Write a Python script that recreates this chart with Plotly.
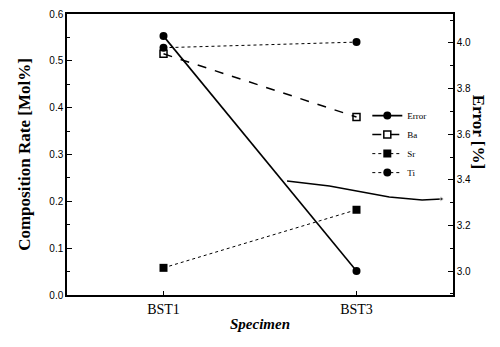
import plotly.graph_objects as go

specimens = ["BST1", "BST3"]
spec_pos = [1, 2]
ba = [0.515, 0.38]
sr = [0.058, 0.182]
ti = [0.528, 0.54]
error = [4.03, 3.0]
# stray line visible in the original scan (error scale)
stray_pos = [1.64, 1.86, 2.17, 2.34, 2.44]
stray_err = [3.395, 3.373, 3.325, 3.311, 3.316]

serif = "Liberation Serif, Times New Roman, serif"
sans = "Liberation Sans, Arial, sans-serif"

fig = go.Figure()
fig.add_trace(go.Scatter(x=spec_pos, y=error, name="Error", yaxis="y2", mode="lines+markers",
                         line=dict(color="black", width=1.6),
                         marker=dict(symbol="circle", size=8, color="black")))
fig.add_trace(go.Scatter(x=spec_pos, y=ba, name="Ba", mode="lines+markers",
                         line=dict(color="black", width=1.5, dash="dash"),
                         marker=dict(symbol="square-open", size=7, color="black", line=dict(width=1.5))))
fig.add_trace(go.Scatter(x=spec_pos, y=sr, name="Sr", mode="lines+markers",
                         line=dict(color="black", width=1, dash="dot"),
                         marker=dict(symbol="square", size=8, color="black")))
fig.add_trace(go.Scatter(x=spec_pos, y=ti, name="Ti", mode="lines+markers",
                         line=dict(color="black", width=1, dash="dot"),
                         marker=dict(symbol="circle", size=8, color="black")))
fig.add_trace(go.Scatter(x=stray_pos, y=stray_err, yaxis="y2", mode="lines+markers", showlegend=False,
                         line=dict(color="black", width=1.5),
                         marker=dict(symbol="triangle-right", size=[0, 0, 0, 0, 5], color="black")))

fig.update_layout(
    width=492, height=339,
    margin=dict(l=59, r=47, t=6, b=52, autoexpand=False),
    paper_bgcolor="white", plot_bgcolor="white",
    showlegend=True,
    legend=dict(x=0.778, y=0.69, xanchor="left", yanchor="top", bgcolor="rgba(0,0,0,0)",
                font=dict(family=serif, size=9, color="black"), itemwidth=30,
                tracegroupgap=0),
    xaxis=dict(range=[0.5, 2.5], tickvals=spec_pos, ticktext=specimens, automargin=False,
               showline=True, linecolor="black", linewidth=1.5, mirror=True,
               ticks="inside", ticklen=4, tickcolor="black", showgrid=False, zeroline=False,
               tickfont=dict(family=serif, size=14, color="black"),
               title=dict(text="<b><i>Specimen</i></b>", font=dict(family=serif, size=15, color="black"),
                          standoff=3)),
    yaxis=dict(range=[0, 0.6], dtick=0.1, tickformat=".1f", automargin=False,
               showline=True, linecolor="black", linewidth=1.5,
               ticks="inside", ticklen=5, tickcolor="black", showgrid=False, zeroline=False,
               minor=dict(ticks="inside", dtick=0.05, ticklen=3, tickcolor="black"),
               tickfont=dict(family=sans, size=10, color="black"),
               title=dict(text="<b>Composition Rate [Mol%]</b>", font=dict(family=serif, size=17, color="black"),
                          standoff=14)),
    yaxis2=dict(range=[2.895, 4.127], overlaying="y", side="right", tickvals=[3.0, 3.2, 3.4, 3.6, 3.8, 4.0],
                tickformat=".1f", automargin=False,
                showline=True, linecolor="black", linewidth=1.5,
                ticks="inside", ticklen=5, tickcolor="black", showgrid=False, zeroline=False,
                minor=dict(ticks="inside", tickvals=[2.9, 3.1, 3.3, 3.5, 3.7, 3.9, 4.1], ticklen=3, tickcolor="black"),
                tickfont=dict(family=sans, size=10, color="black")),
    annotations=[dict(text="<b>Error [%]</b>", xref="paper", yref="paper", x=1.098, y=0.58,
                      textangle=90, showarrow=False, font=dict(family=serif, size=17, color="black"))],
)
fig.write_html("out.html")
